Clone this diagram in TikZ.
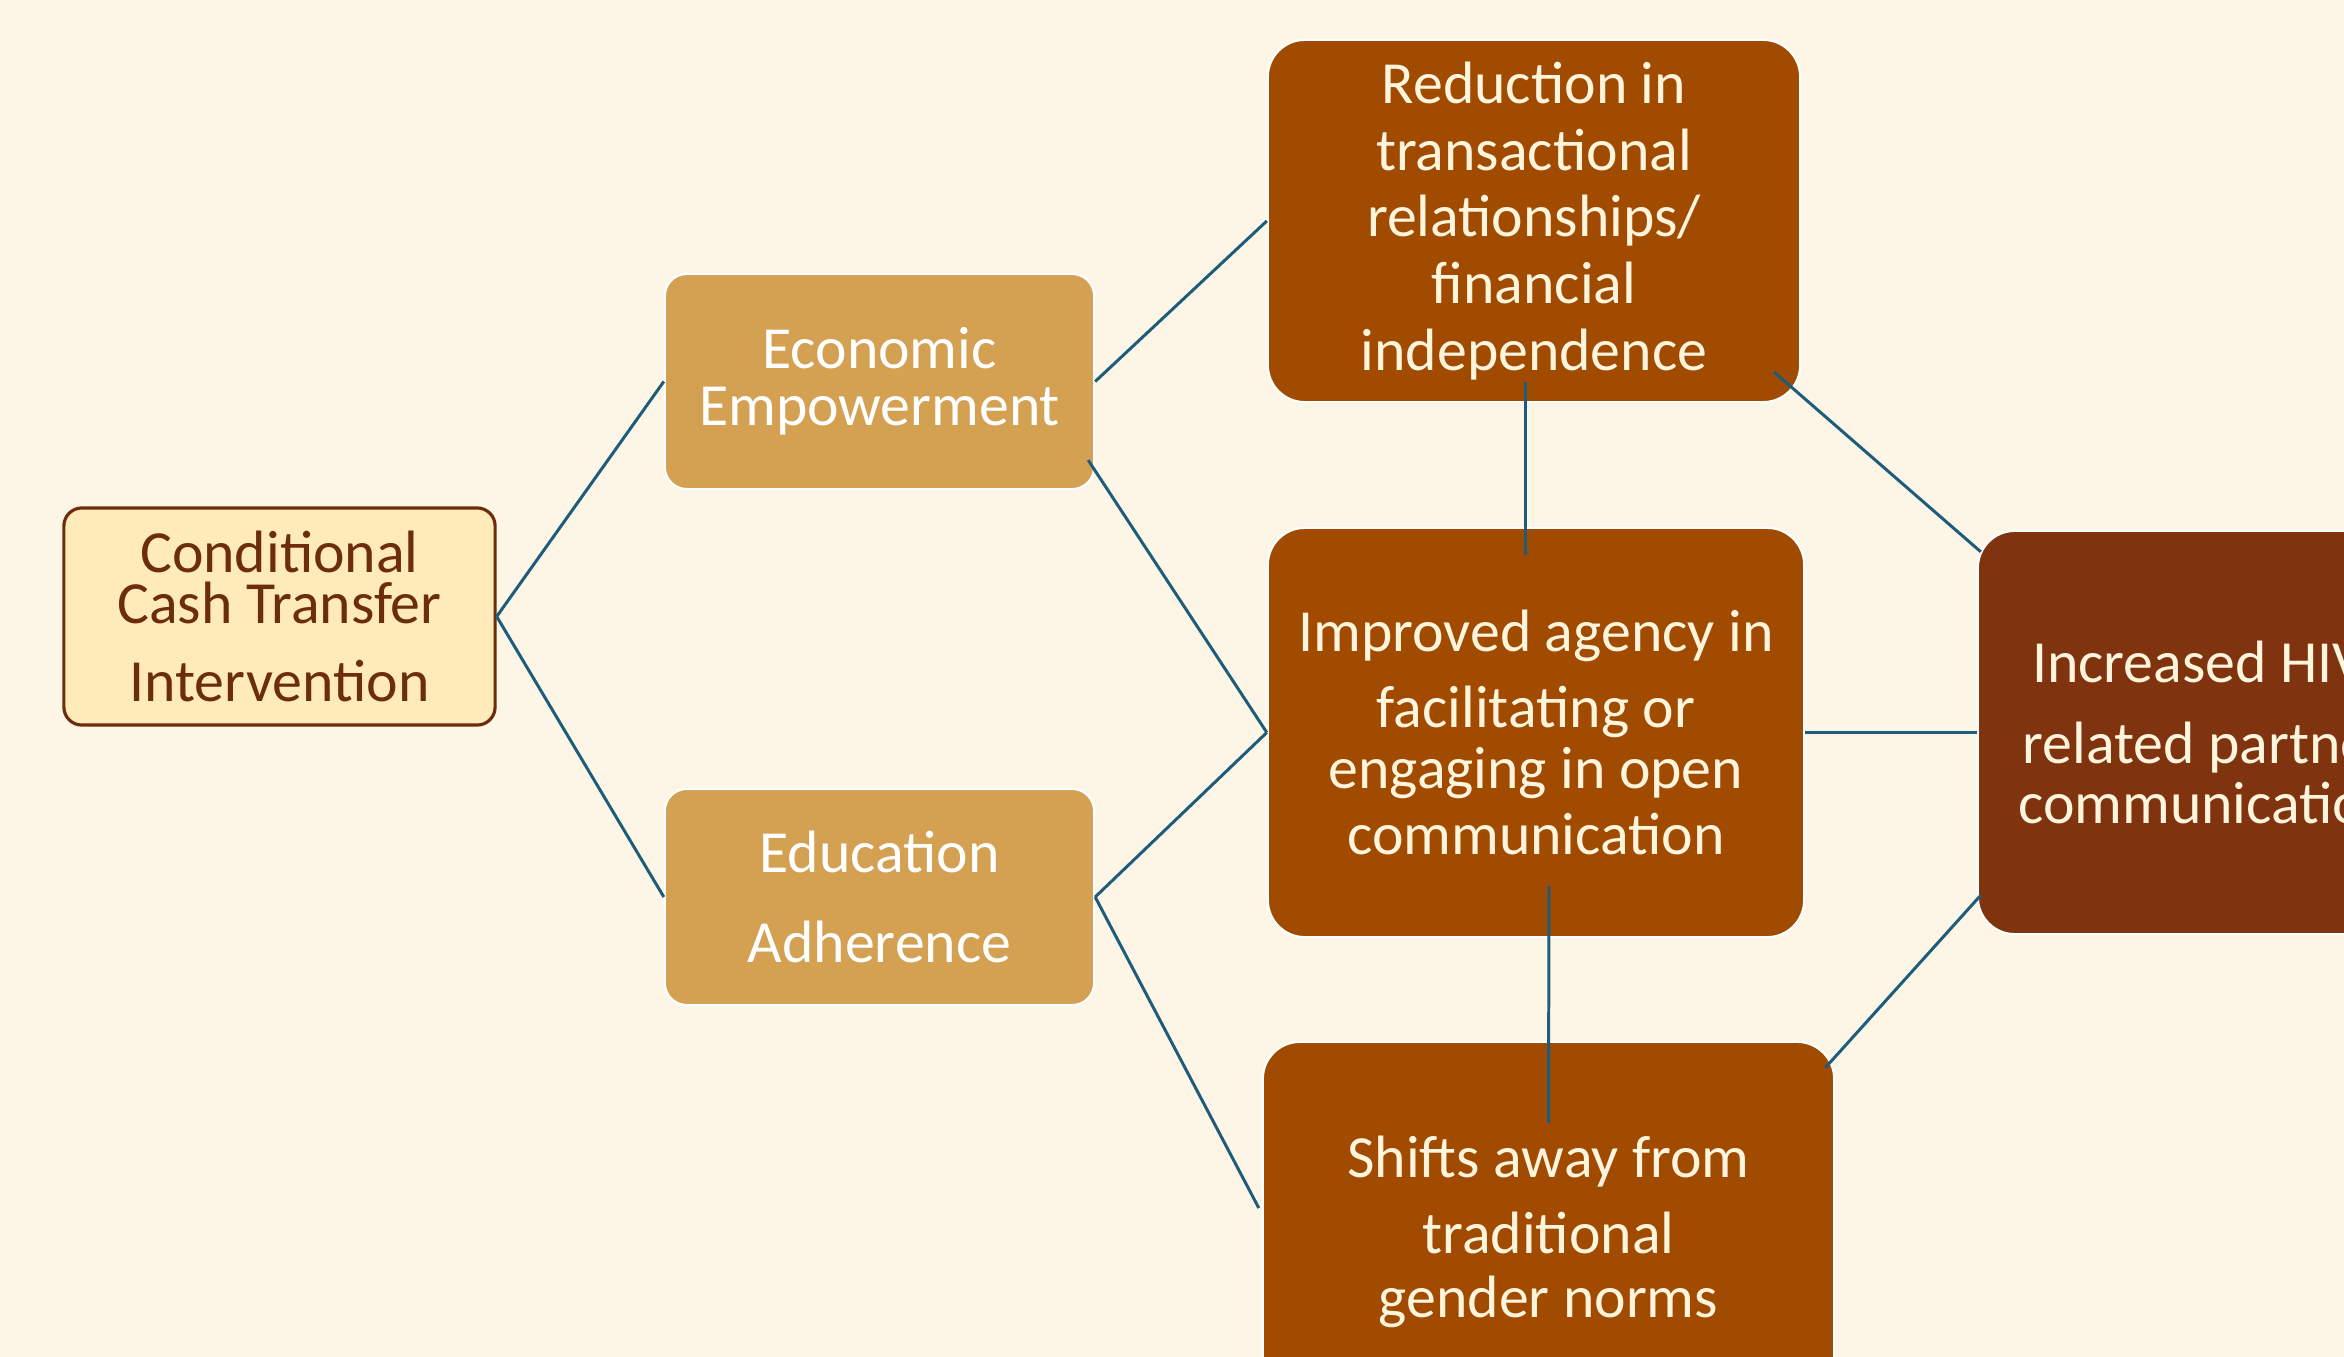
\documentclass[tikz,border=0pt]{standalone}
\usepackage{fontspec}
\setmainfont{Carlito}
\usetikzlibrary{calc}
\definecolor{paper}{HTML}{FDF6E7}
\definecolor{startfill}{HTML}{FFEABA}
\definecolor{startline}{HTML}{6B2D0B}
\definecolor{tan}{HTML}{D4A052}
\definecolor{rust}{HTML}{A04B00}
\definecolor{umber}{HTML}{7F330E}
\definecolor{cream}{HTML}{FFF4DC}
\definecolor{link}{HTML}{1D5C7A}
\begin{document}
\begin{tikzpicture}[x=0.01cm,y=-0.01cm,
  every node/.style={font=\fontsize{17}{19}\selectfont, align=center},
  startbox/.style={draw=startline, line width=0.9pt, fill=startfill, text=startline, rounded corners=0.18cm},
  midbox/.style={draw=white, line width=0.6pt, fill=tan, text=white, rounded corners=0.22cm},
  outbox/.style={draw=white, line width=0.6pt, fill=rust, text=cream, rounded corners=0.37cm},
  endbox/.style={draw=white, line width=0.6pt, fill=umber, text=cream, rounded corners=0.37cm},
  conn/.style={draw=link, line width=0.85pt}]

\fill[paper] (0,0) rectangle (2344,1357);
\clip (0,0) rectangle (2344,1357);

% boxes
\node[startbox, minimum width=4.31cm, minimum height=2.17cm] (cct) at (279.5,616.5)
  {Conditional\\[-4.5pt]Cash Transfer\\[3.4pt]Intervention};
\node[midbox, minimum width=4.29cm, minimum height=2.15cm] (econ) at (879.5,381.5)
  {Economic\\[-2.8pt]Empowerment};
\node[midbox, minimum width=4.29cm, minimum height=2.16cm] (edu) at (879.5,897)
  {Education\\[6.5pt]Adherence};
\node[outbox, minimum width=5.32cm, minimum height=3.62cm] (red) at (1534,221)
  {Reduction in\\transactional\\relationships/\\financial\\independence};
\node[outbox, minimum width=5.36cm, minimum height=4.09cm] (agency) at (1536,732.5)
  {Improved agency in\\[2.6pt]facilitating or\\[-1.7pt]engaging in open\\communication};
\node[outbox, minimum width=5.71cm, minimum height=3.8cm] (norms) at (1548.5,1232)
  {Shifts away from\\[2.6pt]traditional\\[-0.9pt]gender norms};
\node[endbox, minimum width=4.58cm, minimum height=4.03cm] (hiv) at (2207,732.5)
  {Increased HIV-\\[4pt]related partner\\[-1.7pt]communication};

% links
\draw[conn] (cct.east) -- (econ.west);
\draw[conn] (cct.east) -- (edu.west);
\draw[conn] (econ.east) -- (red.west);
\draw[conn] ($(econ.south east)+(-7,-30)$) -- (agency.west);
\draw[conn] (edu.east) -- (agency.west);
\draw[conn] (edu.east) -- ($(norms.west)+(-3,-24)$);
\draw[conn] ($(red.south)+(-9,-21)$) -- ($(agency.north)+(-11,28)$);
\draw[conn] ($(agency.south)+(13,-52)$) -- ($(norms.north)+(0,82)$);
\draw[conn] (agency.east) -- (hiv.west);
\draw[conn] ($(red.south east)+(-27,-31)$) -- ($(hiv.north west)+(4,22)$);
\draw[conn] ($(norms.north east)+(-10,27)$) -- ($(hiv.south west)+(4,-40)$);
\end{tikzpicture}
\end{document}
